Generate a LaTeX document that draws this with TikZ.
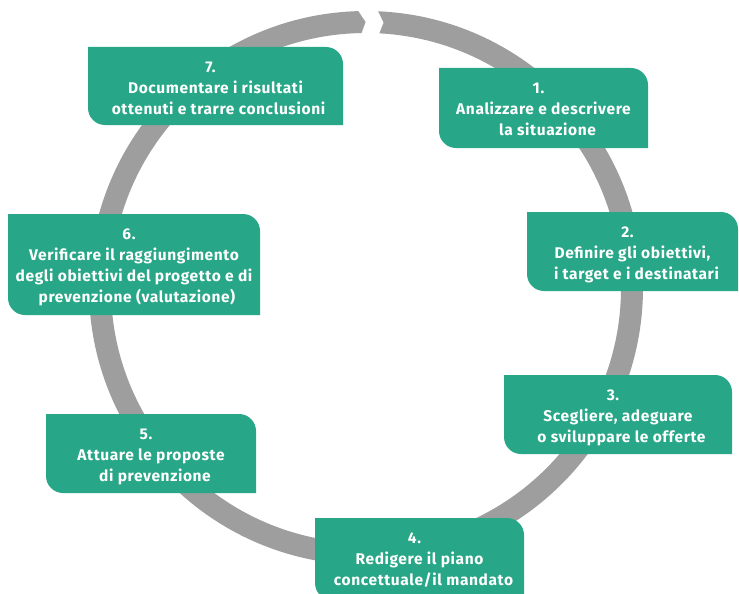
\documentclass[tikz,border=0pt]{standalone}
\usepackage{fontspec}
\setmainfont{Fira Sans}[LetterSpace=4]
\definecolor{boxgreen}{HTML}{27A787}
\definecolor{ringgrey}{HTML}{9E9E9E}
\tikzset{
  txt/.style={text=white, font=\fontsize{15.5}{21}\selectfont\bfseries, align=center, inner sep=0pt, anchor=north},
  boxfill/.style={fill=boxgreen}
}
\newcommand\greenbox[4]{%
  \fill[boxfill] (#1,-#2) -- ({#3-17},-#2) arc[start angle=90,end angle=0,radius=17] -- (#3,-#4) -- ({#1+17},-#4) arc[start angle=270,end angle=180,radius=17] -- cycle;}
\begin{document}
\begin{tikzpicture}[x=1pt,y=1pt]
\clip (0,0) rectangle (739,-594);
\fill[white] (0,0) rectangle (739,-594);
% ring
\begin{scope}[shift={(366,-288)}]
\fill[ringgrey] (87.5:277) arc[start angle=87.5,end angle=-268.4,radius=277] -- (90.1:266) -- (-269:255) arc[start angle=-269,end angle=87,radius=255] -- (86.2:266) -- cycle;
\end{scope}
% boxes
\greenbox{88}{47}{343}{125}
\greenbox{439}{68}{648}{148}
\greenbox{527}{212}{738}{291}
\greenbox{8}{214}{260}{315}
\greenbox{46}{414}{256}{493}
\greenbox{504}{375}{732}{454}
\greenbox{315}{518}{524}{600}
% texts
\node[txt] (t7) at (215.5,-61.5) {7.\hspace*{10pt}\\Documentare i risultati\\\hspace*{6pt}ottenuti e trarre conclusioni};
\node[txt] (t1) at (543.5,-82.5) {1.\hspace*{10pt}\\Analizzare e descrivere\\\hspace*{8pt}la situazione};
\node[txt] (t2) at (632.5,-226.5) {2.\hspace*{10pt}\\Definire gli obiettivi,\\\hspace*{8pt}i target e i destinatari};
\node[txt] (t6) at (134,-228.5) {6.\hspace*{10pt}\\Verificare il raggiungimento\\degli obiettivi del progetto e di\\\hspace*{6pt}prevenzione (valutazione)};
\node[txt] (t5) at (151,-428.5) {5.\hspace*{10pt}\\Attuare le proposte\\\hspace*{8pt}di prevenzione};
\node[txt] (t3) at (618,-389.5) {3.\hspace*{10pt}\\Scegliere, adeguare\\\hspace*{7pt}o sviluppare le offerte};
\node[txt] (t4) at (419.5,-532.5) {4.\hspace*{10pt}\\Redigere il piano\\\hspace*{8pt}concettuale/il mandato};
\end{tikzpicture}
\end{document}
